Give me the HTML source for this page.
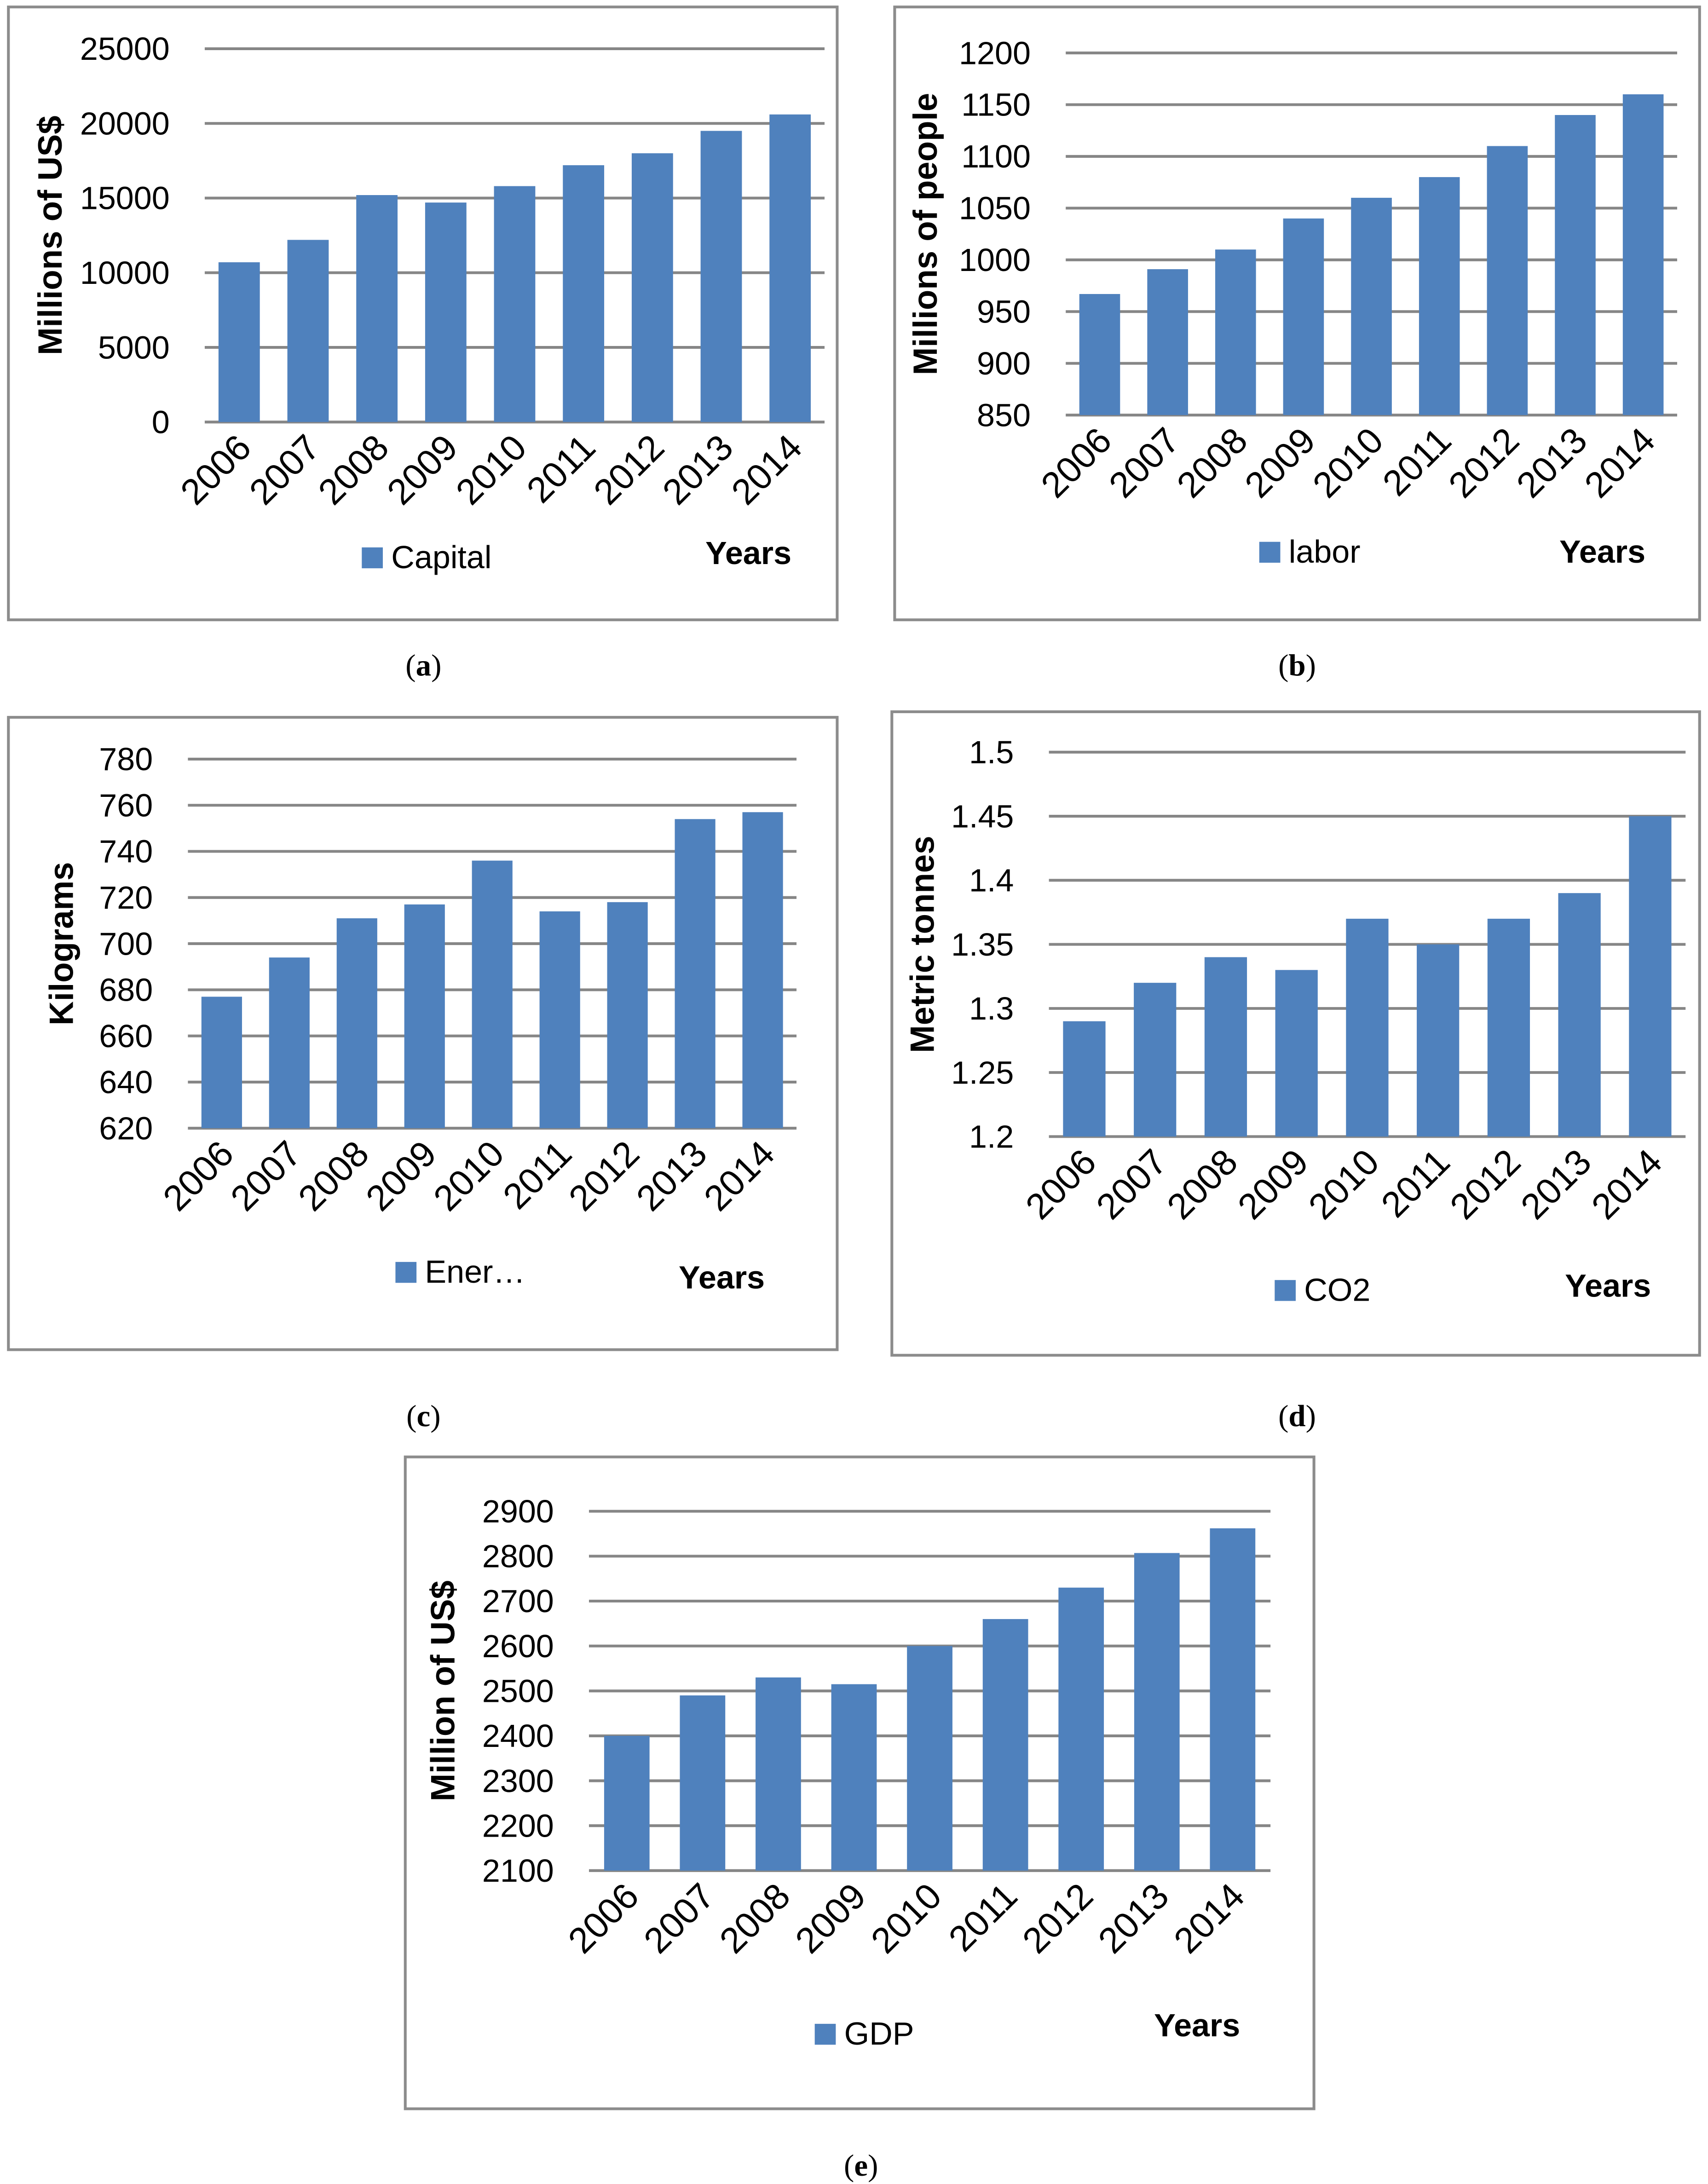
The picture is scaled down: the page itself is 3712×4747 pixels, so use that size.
<!DOCTYPE html>
<html><head><meta charset="utf-8"><style>
html,body{margin:0;padding:0;background:#fff}
svg{display:block}
text{font-family:"Liberation Sans",sans-serif}
</style></head><body>
<svg id="fig" width="3712" height="4747" viewBox="0 0 1218 1568" preserveAspectRatio="none" xmlns="http://www.w3.org/2000/svg"></svg>
<script>
const years = ["2006","2007","2008","2009","2010","2011","2012","2013","2014"];
const capitalValues = [10700,12200,15200,14700,15800,17200,18000,19500,20600];
const capitalTicks = [0,5000,10000,15000,20000,25000];
const laborValues = [967,991,1010,1040,1060,1080,1110,1140,1160];
const laborTicks = [850,900,950,1000,1050,1100,1150,1200];
const energyValues = [677,694,711,717,736,714,718,754,757];
const energyTicks = [620,640,660,680,700,720,740,760,780];
const co2Values = [1.29,1.32,1.34,1.33,1.37,1.35,1.37,1.39,1.45];
const co2Ticks = [1.2,1.25,1.3,1.35,1.4,1.45,1.5];
const gdpValues = [2400,2490,2530,2515,2600,2660,2730,2807,2862];
const gdpTicks = [2100,2200,2300,2400,2500,2600,2700,2800,2900];

const NS="http://www.w3.org/2000/svg";
const svg=document.getElementById('fig');
function mk(tag,attrs,parent,txt){const e=document.createElementNS(NS,tag);for(const k in attrs)e.setAttribute(k,attrs[k]);if(txt!==undefined)e.textContent=txt;(parent||svg).appendChild(e);return e;}

function panel(cfg,values,ticks){
  const g=mk('g',{});
  
  
  const b=mk('rect',{x:cfg.bx,y:cfg.by,width:cfg.bw,height:cfg.bh,fill:'none',stroke:'#8c8c8c','stroke-width':2},g);
  
  
  const t0=ticks[0],t1=ticks[ticks.length-1];
  const yS=v=>cfg.y0+(v-t0)/(t1-t0)*(cfg.y1-cfg.y0);
  const n=values.length,step=(cfg.x1-cfg.x0)/n;
  const xS=i=>cfg.x0+step*(i+0.5);
  ticks.forEach(t=>{
    const l=mk('line',{x1:cfg.x0,x2:cfg.x1,y1:yS(t),y2:yS(t),stroke:'#868686','stroke-width':2},g);
    
    
    const tx=mk('text',{x:cfg.x0-25,y:yS(t)+8,'text-anchor':'end','font-size':23,fill:'#000'},g,String(t));
    
    
  });
  const bw=step*0.6;
  values.forEach((v,i)=>{
    const r=mk('rect',{x:xS(i)-bw/2,y:yS(v),width:bw,height:cfg.y0-yS(v),fill:'#4f81bd'},g);
    
    
    const ax=xS(i)+10,ay=cfg.y0+20;
    const tx=mk('text',{x:ax,y:ay,'text-anchor':'end','font-size':26,transform:`rotate(-45 ${ax} ${ay})`},g,years[i]);
    
    
  });
  const tcx=cfg.tx,tcy=(cfg.y0+cfg.y1)/2;
  const tt=mk('text',{x:tcx,y:tcy,'text-anchor':'middle','font-size':24,'font-weight':'bold',transform:`rotate(-90 ${tcx} ${tcy})`},g,cfg.title);
  
  
  const ls=mk('rect',{x:cfg.lx,y:cfg.ly-15,width:15,height:15,fill:'#4f81bd'},g);
  
  
  const lt=mk('text',{x:cfg.lx+21,y:cfg.ly,'font-size':23},g,cfg.legend);
  
  
  const yt=mk('text',{x:cfg.yx,y:cfg.yy,'font-size':23,'font-weight':'bold'},g,'Years');
  
  
  const cp=mk('text',{x:cfg.cx,y:cfg.cy,'text-anchor':'middle','font-size':22,style:'font-family:"Liberation Serif",serif'},g);
  mk('tspan',{},cp,'(');mk('tspan',{'font-weight':'bold'},cp,cfg.letter);mk('tspan',{},cp,')');
  
  
}

panel({name:'capital',bx:6,by:5,bw:591,bh:440,x0:146,x1:588,y0:303,y1:35,tx:44,title:'Millions of US$',lx:258,ly:408,legend:'Capital',yx:503,yy:405,cx:302,cy:485,letter:'a'},capitalValues,capitalTicks);
panel({name:'labor',bx:638,by:5,bw:574,bh:440,x0:760,x1:1196,y0:298,y1:38,tx:668,title:'Millions of people',lx:898,ly:404,legend:'labor',yx:1112,yy:404,cx:925,cy:485,letter:'b'},laborValues,laborTicks);
panel({name:'energy',bx:6,by:515,bw:591,bh:454,x0:134,x1:568,y0:810,y1:545,tx:52,title:'Kilograms',lx:282,ly:921,legend:'Ener…',yx:484,yy:925,cx:302,cy:1024,letter:'c'},energyValues,energyTicks);
panel({name:'co2',bx:636,by:511,bw:576,bh:462,x0:748,x1:1202,y0:816,y1:540,tx:666,title:'Metric tonnes',lx:909,ly:934,legend:'CO2',yx:1116,yy:931,cx:925,cy:1024,letter:'d'},co2Values,co2Ticks);
panel({name:'gdp',bx:289,by:1046,bw:648,bh:468,x0:420,x1:906,y0:1343,y1:1085,tx:324,title:'Million of US$',lx:581,ly:1468,legend:'GDP',yx:823,yy:1462,cx:614,cy:1562,letter:'e'},gdpValues,gdpTicks);
</script>
</body></html>
